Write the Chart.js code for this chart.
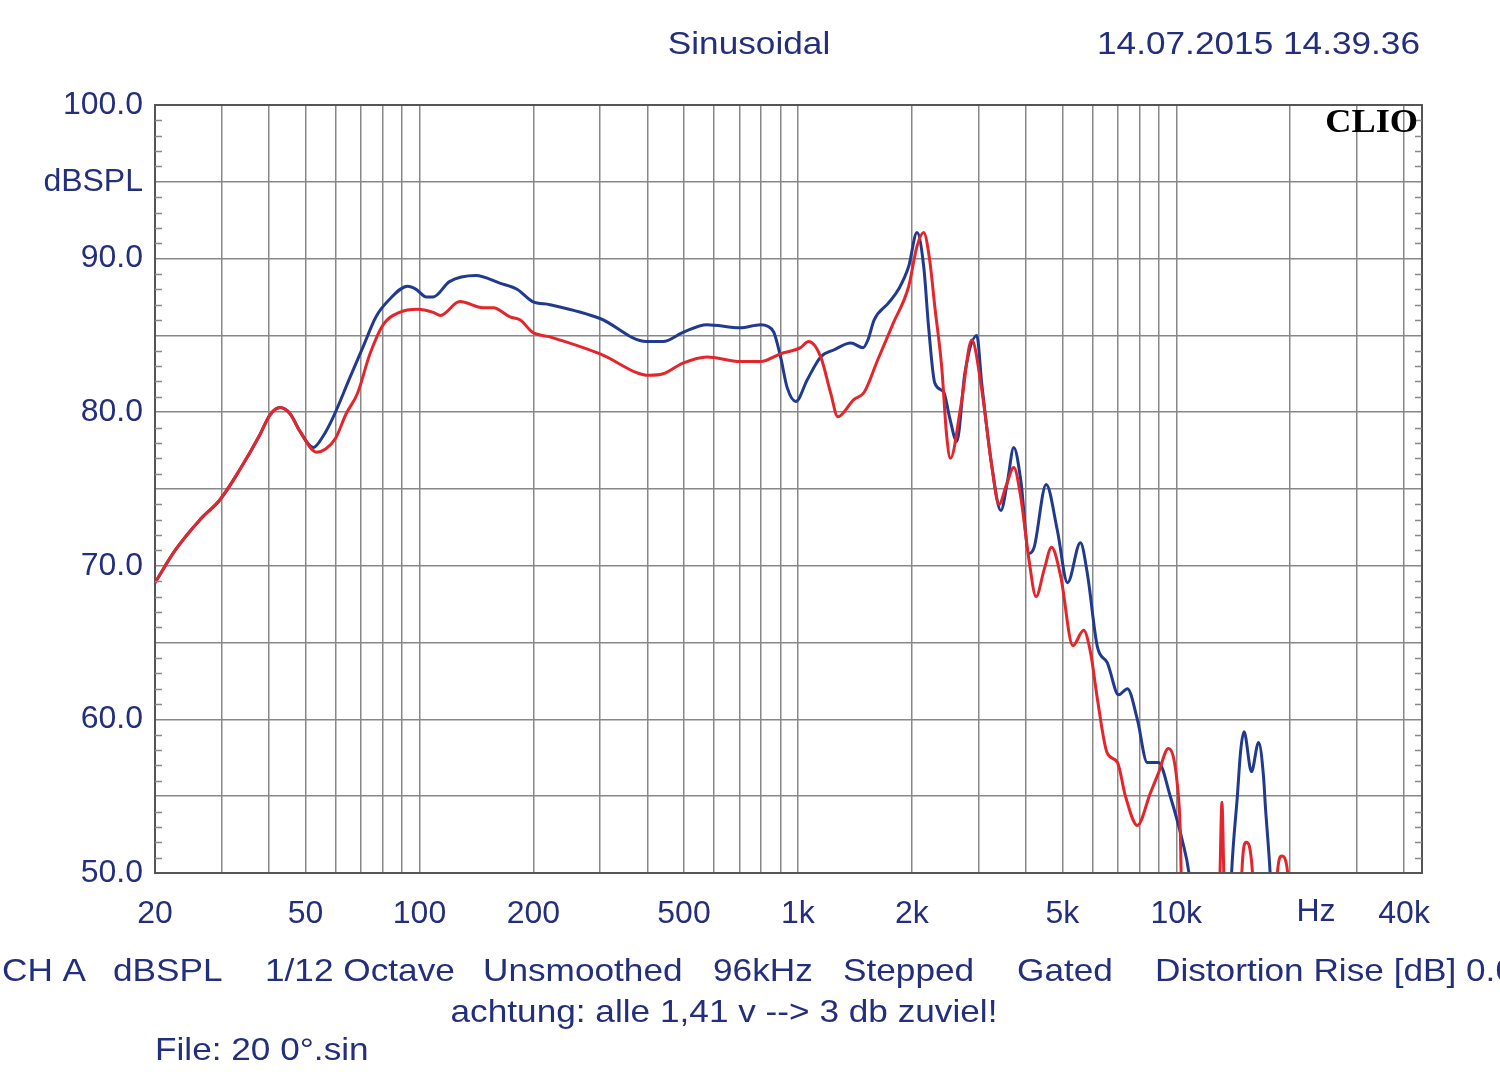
<!DOCTYPE html>
<html>
<head>
<meta charset="utf-8">
<script src="https://cdn.jsdelivr.net/npm/chart.js@4.4.1/dist/chart.umd.min.js"></script>
<style>
  body { margin: 0; background: #fff; }
  canvas { display: block; }
</style>
</head>
<body>
<canvas id="chart" width="1500" height="1086"></canvas>
<script>
// frequency response (Hz / dBSPL); null = below the 50 dB floor
const blueFreq = [20, 22.6, 26.3, 29.7, 33.4, 37.8, 40.2, 42.8, 45.5, 48.2, 52.4, 55.5, 59.2, 65.6, 70.8, 76.7, 83, 93, 98, 104.3, 108.7, 120, 141, 163, 181, 199, 221, 300, 398, 440, 497, 575, 704, 797, 832, 864, 900, 937, 988, 1058, 1149, 1243, 1380, 1487, 1531, 1590, 1734, 1845, 1963, 2064, 2150, 2216, 2300, 2430, 2515, 2630, 2764, 2970, 3060, 3250, 3440, 3580, 3720, 3880, 4080, 4210, 4530, 4850, 5160, 5580, 5820, 6190, 6570, 7040, 7430, 7890, 8380, 8970, 9640, 10400, 10800, 11200, 12500, 13800, 14000, 14500, 14800, 15100, 15800, 16500, 17000, 17200, 17700, 18000];
const blueDb   = [68.9, 71.0, 73.0, 74.3, 76.2, 78.5, 79.8, 80.3, 79.9, 78.8, 77.7, 78.4, 79.7, 82.3, 84.2, 86.2, 87.3, 88.2, 88.0, 87.5, 87.5, 88.5, 88.9, 88.4, 88.0, 87.2, 87.0, 86.1, 84.6, 84.6, 85.2, 85.7, 85.5, 85.7, 85.6, 85.2, 83.6, 81.6, 80.7, 82.1, 83.6, 84.05, 84.5, 84.2, 84.7, 86.0, 87.1, 88.0, 89.5, 91.7, 89.5, 85.5, 81.9, 81.3, 79.7, 78.1, 82.6, 85.0, 81.9, 76.6, 73.6, 75.5, 77.7, 75.6, 70.8, 71.2, 75.3, 72.3, 68.9, 71.5, 69.5, 64.7, 63.7, 61.6, 62.0, 60.0, 57.2, 57.2, 55.0, 52.0, 50.0, 46, null, 46, 50, 55, 58, 59.2, 56.6, 58.5, 56.3, 54.3, 50, 46];

const redFreq = [20, 22.6, 26.3, 29.7, 33.4, 37.8, 40.2, 42.8, 45.5, 48.2, 53.5, 56.5, 60, 64, 68.5, 74, 80.2, 88.6, 98.8, 108.7, 113.6, 127.8, 147.3, 156.7, 173.5, 184.7, 199, 221, 300, 406, 440, 497, 575, 704, 797, 900, 1016, 1067, 1149, 1222, 1275, 1403, 1497, 1625, 1787, 1963, 2064, 2150, 2230, 2300, 2400, 2470, 2530, 2700, 2880, 3060, 3250, 3400, 3550, 3720, 3880, 4080, 4260, 4480, 4680, 4950, 5330, 5690, 5940, 6190, 6570, 6990, 7340, 7890, 8540, 8970, 9530, 10050, 10250, 10300, 10400, 11500, 12950, 13050, 13200, 13350, 13450, 14100, 14800, 14900, 15300, 15900, 16000, 17200, 18400, 18500, 19000, 19700, 19800];
const redDb   = [68.9, 71.0, 73.0, 74.3, 76.2, 78.5, 79.8, 80.3, 79.9, 78.8, 77.4, 77.6, 78.3, 79.9, 81.2, 83.8, 85.7, 86.5, 86.7, 86.5, 86.3, 87.2, 86.8, 86.8, 86.2, 86.0, 85.2, 84.9, 83.8, 82.4, 82.5, 83.2, 83.6, 83.3, 83.3, 83.8, 84.2, 84.6, 83.6, 81.2, 79.7, 80.8, 81.3, 83.4, 85.8, 88.2, 90.8, 91.7, 89.9, 86.9, 82.9, 78.6, 77.0, 80.5, 84.7, 81.5, 76.6, 74.0, 75.2, 76.4, 74.5, 70.4, 68.0, 69.8, 71.2, 69.3, 64.8, 65.8, 64.3, 61.3, 57.8, 57.2, 55.0, 53.1, 55.2, 56.5, 58.1, 55.9, 52.6, 50, 46, null, 46, 50, 54.6, 50, 46, null, 46, 50, 52.0, 50, 46, null, 46, 50, 51.1, 50, 46];

const xTickValues = [20, 30, 40, 50, 60, 70, 80, 90, 100, 200, 300, 400, 500, 600, 700, 800, 900,
  1000, 2000, 3000, 4000, 5000, 6000, 7000, 8000, 9000, 10000, 20000, 30000, 40000];
const xTickLabels = {20: '20', 50: '50', 100: '100', 200: '200', 500: '500', 1000: '1k',
  2000: '2k', 5000: '5k', 10000: '10k', 40000: '40k'};
const footerItems = [['CH A', 2], ['dBSPL', 113], ['1/12 Octave', 265], ['Unsmoothed', 483],
  ['96kHz', 713], ['Stepped', 843], ['Gated', 1017], ['Distortion Rise [dB] 0.0', 1155]];

const textColor = '#232f7c';
const gridColor = '#888';
const font = '"Liberation Sans", Arial, sans-serif';
const stretch = 1.1; // the scanned lettering is a bit wider than Arial

function toPoints(freq, db) {
  return freq.map((f, i) => ({ x: f, y: db[i] }));
}

function wideText(ctx, text, x, y) {
  ctx.save();
  ctx.translate(x, y);
  ctx.scale(stretch, 1);
  ctx.fillText(text, 0, 0);
  ctx.restore();
}

// texts, frame and the little 1 dB ticks
const decorations = {
  id: 'decorations',
  afterDraw(chart) {
    const { ctx, chartArea: a } = chart;
    const yScale = chart.scales.y;
    ctx.save();
    ctx.strokeStyle = '#555';
    ctx.lineWidth = 2;
    ctx.strokeRect(a.left, a.top, a.right - a.left, a.bottom - a.top);

    ctx.strokeStyle = gridColor;
    ctx.lineWidth = 1.5;
    for (let v = 51; v < 100; v++) {
      if (v % 5 === 0) continue;
      const py = Math.round(yScale.getPixelForValue(v)) + 0.5;
      ctx.beginPath();
      ctx.moveTo(a.left, py); ctx.lineTo(a.left + 7, py);
      ctx.moveTo(a.right - 7, py); ctx.lineTo(a.right, py);
      ctx.stroke();
    }

    ctx.fillStyle = textColor;
    ctx.font = '32px ' + font;
    ctx.textBaseline = 'middle';
    ctx.textAlign = 'center';
    wideText(ctx, 'Sinusoidal', 749, 45);
    wideText(ctx, 'achtung: alle 1,41 v --> 3 db zuviel!', 724, 1013);
    ctx.fillText('Hz', 1316, 912);
    ctx.textAlign = 'right';
    wideText(ctx, '14.07.2015 14.39.36', 1420, 45);
    ctx.textAlign = 'left';
    footerItems.forEach(([t, x]) => wideText(ctx, t, x, 972));
    wideText(ctx, 'File: 20 0°.sin', 155, 1051);

    ctx.fillStyle = '#000';
    ctx.font = 'bold 33px "Liberation Serif", serif';
    ctx.textAlign = 'right';
    wideText(ctx, 'CLIO', 1418, 123);
    ctx.restore();
  }
};

new Chart(document.getElementById('chart'), {
  type: 'line',
  data: {
    datasets: [
      {
        label: 'red',
        data: toPoints(redFreq, redDb),
        borderColor: '#e3262b',
        borderWidth: 3,
        pointRadius: 0,
        cubicInterpolationMode: 'monotone',
        spanGaps: false
      },
      {
        label: 'blue',
        data: toPoints(blueFreq, blueDb),
        borderColor: '#1f3a8f',
        borderWidth: 3,
        pointRadius: 0,
        cubicInterpolationMode: 'monotone',
        spanGaps: false
      }
    ]
  },
  options: {
    responsive: false,
    animation: false,
    layout: { padding: { left: 0, top: 105, right: 78, bottom: 153 } },
    plugins: { legend: { display: false }, tooltip: { enabled: false } },
    scales: {
      x: {
        type: 'logarithmic',
        min: 20,
        max: 44600,
        afterBuildTicks: scale => { scale.ticks = xTickValues.map(v => ({ value: v })); },
        afterFit: scale => { scale.height = 60; },
        ticks: {
          autoSkip: false,
          maxRotation: 0,
          padding: 22,
          color: textColor,
          font: { family: font, size: 32 },
          callback: v => xTickLabels[v] || ''
        },
        grid: { color: gridColor, lineWidth: 1.5, drawTicks: false },
        border: { display: false }
      },
      y: {
        min: 50,
        max: 100,
        afterFit: scale => { scale.width = 155; },
        ticks: {
          stepSize: 5,
          padding: 12,
          color: textColor,
          font: { family: font, size: 32 },
          callback: v => (v % 10 === 0 ? v.toFixed(1) : (v === 95 ? 'dBSPL' : ''))
        },
        grid: { color: gridColor, lineWidth: 1.5, drawTicks: false },
        border: { display: false }
      }
    }
  },
  plugins: [decorations]
});
</script>
</body>
</html>
